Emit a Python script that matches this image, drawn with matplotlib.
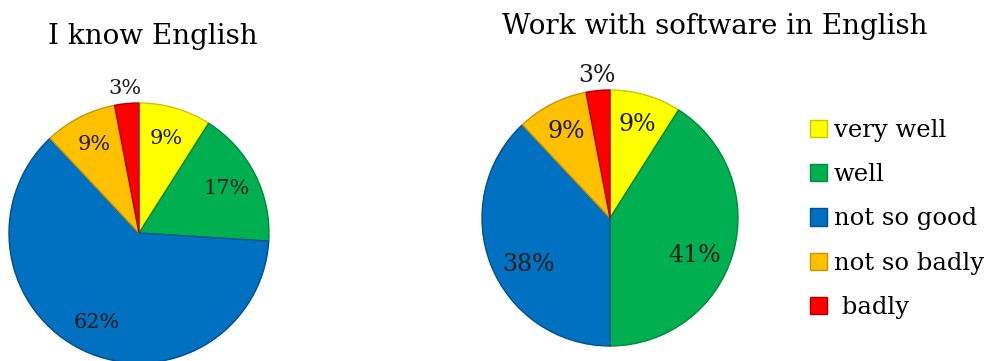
import numpy as np
import matplotlib.pyplot as plt
from matplotlib.patches import Patch

categories = ["very well", "well", "not so good", "not so badly", " badly"]
know_english = [9, 17, 62, 9, 3]
work_software = [9, 41, 38, 9, 3]
colors = ["#FFFF00", "#00B050", "#0070C0", "#FFC000", "#FF0000"]
edges = ["#C8C800", "#008A3C", "#005090", "#C89600", "#B00000"]

plt.rcParams["font.family"] = ["DejaVu Serif"]

fig = plt.figure(figsize=(9.9, 3.61), dpi=100)
W, H = 990, 361


def pie_axes(cx, cy, r):
    # cx, cy, r in pixels, y measured from top
    return fig.add_axes([(cx - r) / W, (H - cy - r) / H, 2 * r / W, 2 * r / H])


def draw_pie(ax, values, fs):
    wedges, _, autotexts = ax.pie(values, colors=colors, startangle=90, counterclock=False,
                                  autopct="%d%%", pctdistance=0.76, radius=1,
                                  wedgeprops=dict(linewidth=1.0),
                                  textprops=dict(fontsize=fs, color="#1a1a1a"))
    for w, e in zip(wedges, edges):
        w.set_edgecolor(e)
    # small slice label goes outside
    w = wedges[-1]
    ang = np.deg2rad((w.theta1 + w.theta2) / 2)
    autotexts[-1].set_position((1.12 * np.cos(ang), 1.12 * np.sin(ang)))
    ax.set_xlim(-1, 1)
    ax.set_ylim(-1, 1)
    ax.set_aspect("equal")
    ax.axis("off")
    return wedges, autotexts


ax1 = pie_axes(139, 233, 130)
_, t1 = draw_pie(ax1, know_english, 15)
ax2 = pie_axes(610, 218, 128)
_, t2 = draw_pie(ax2, work_software, 17)
# pull the big-slice labels a bit inward and lower, as in the original
for t in (t2[1], t2[2]):
    x, y = t.get_position()
    t.set_position((x * 0.9, y - 0.08))

fig.text(153 / W, 1 - 36 / H, "I know English", ha="center", va="center", fontsize=20)
fig.text(715 / W, 1 - 27 / H, "Work with software in English", ha="center", va="center", fontsize=20)

handles = [Patch(facecolor=c, edgecolor=e) for c, e in zip(colors, edges)]
fig.legend(handles, categories, loc="center left", bbox_to_anchor=(800 / W, 1 - 219 / H),
           frameon=False, fontsize=17.5, handlelength=0.7, handleheight=0.7,
           handletextpad=0.3, labelspacing=0.88, borderaxespad=0)

fig.savefig("out.png", dpi=100)
